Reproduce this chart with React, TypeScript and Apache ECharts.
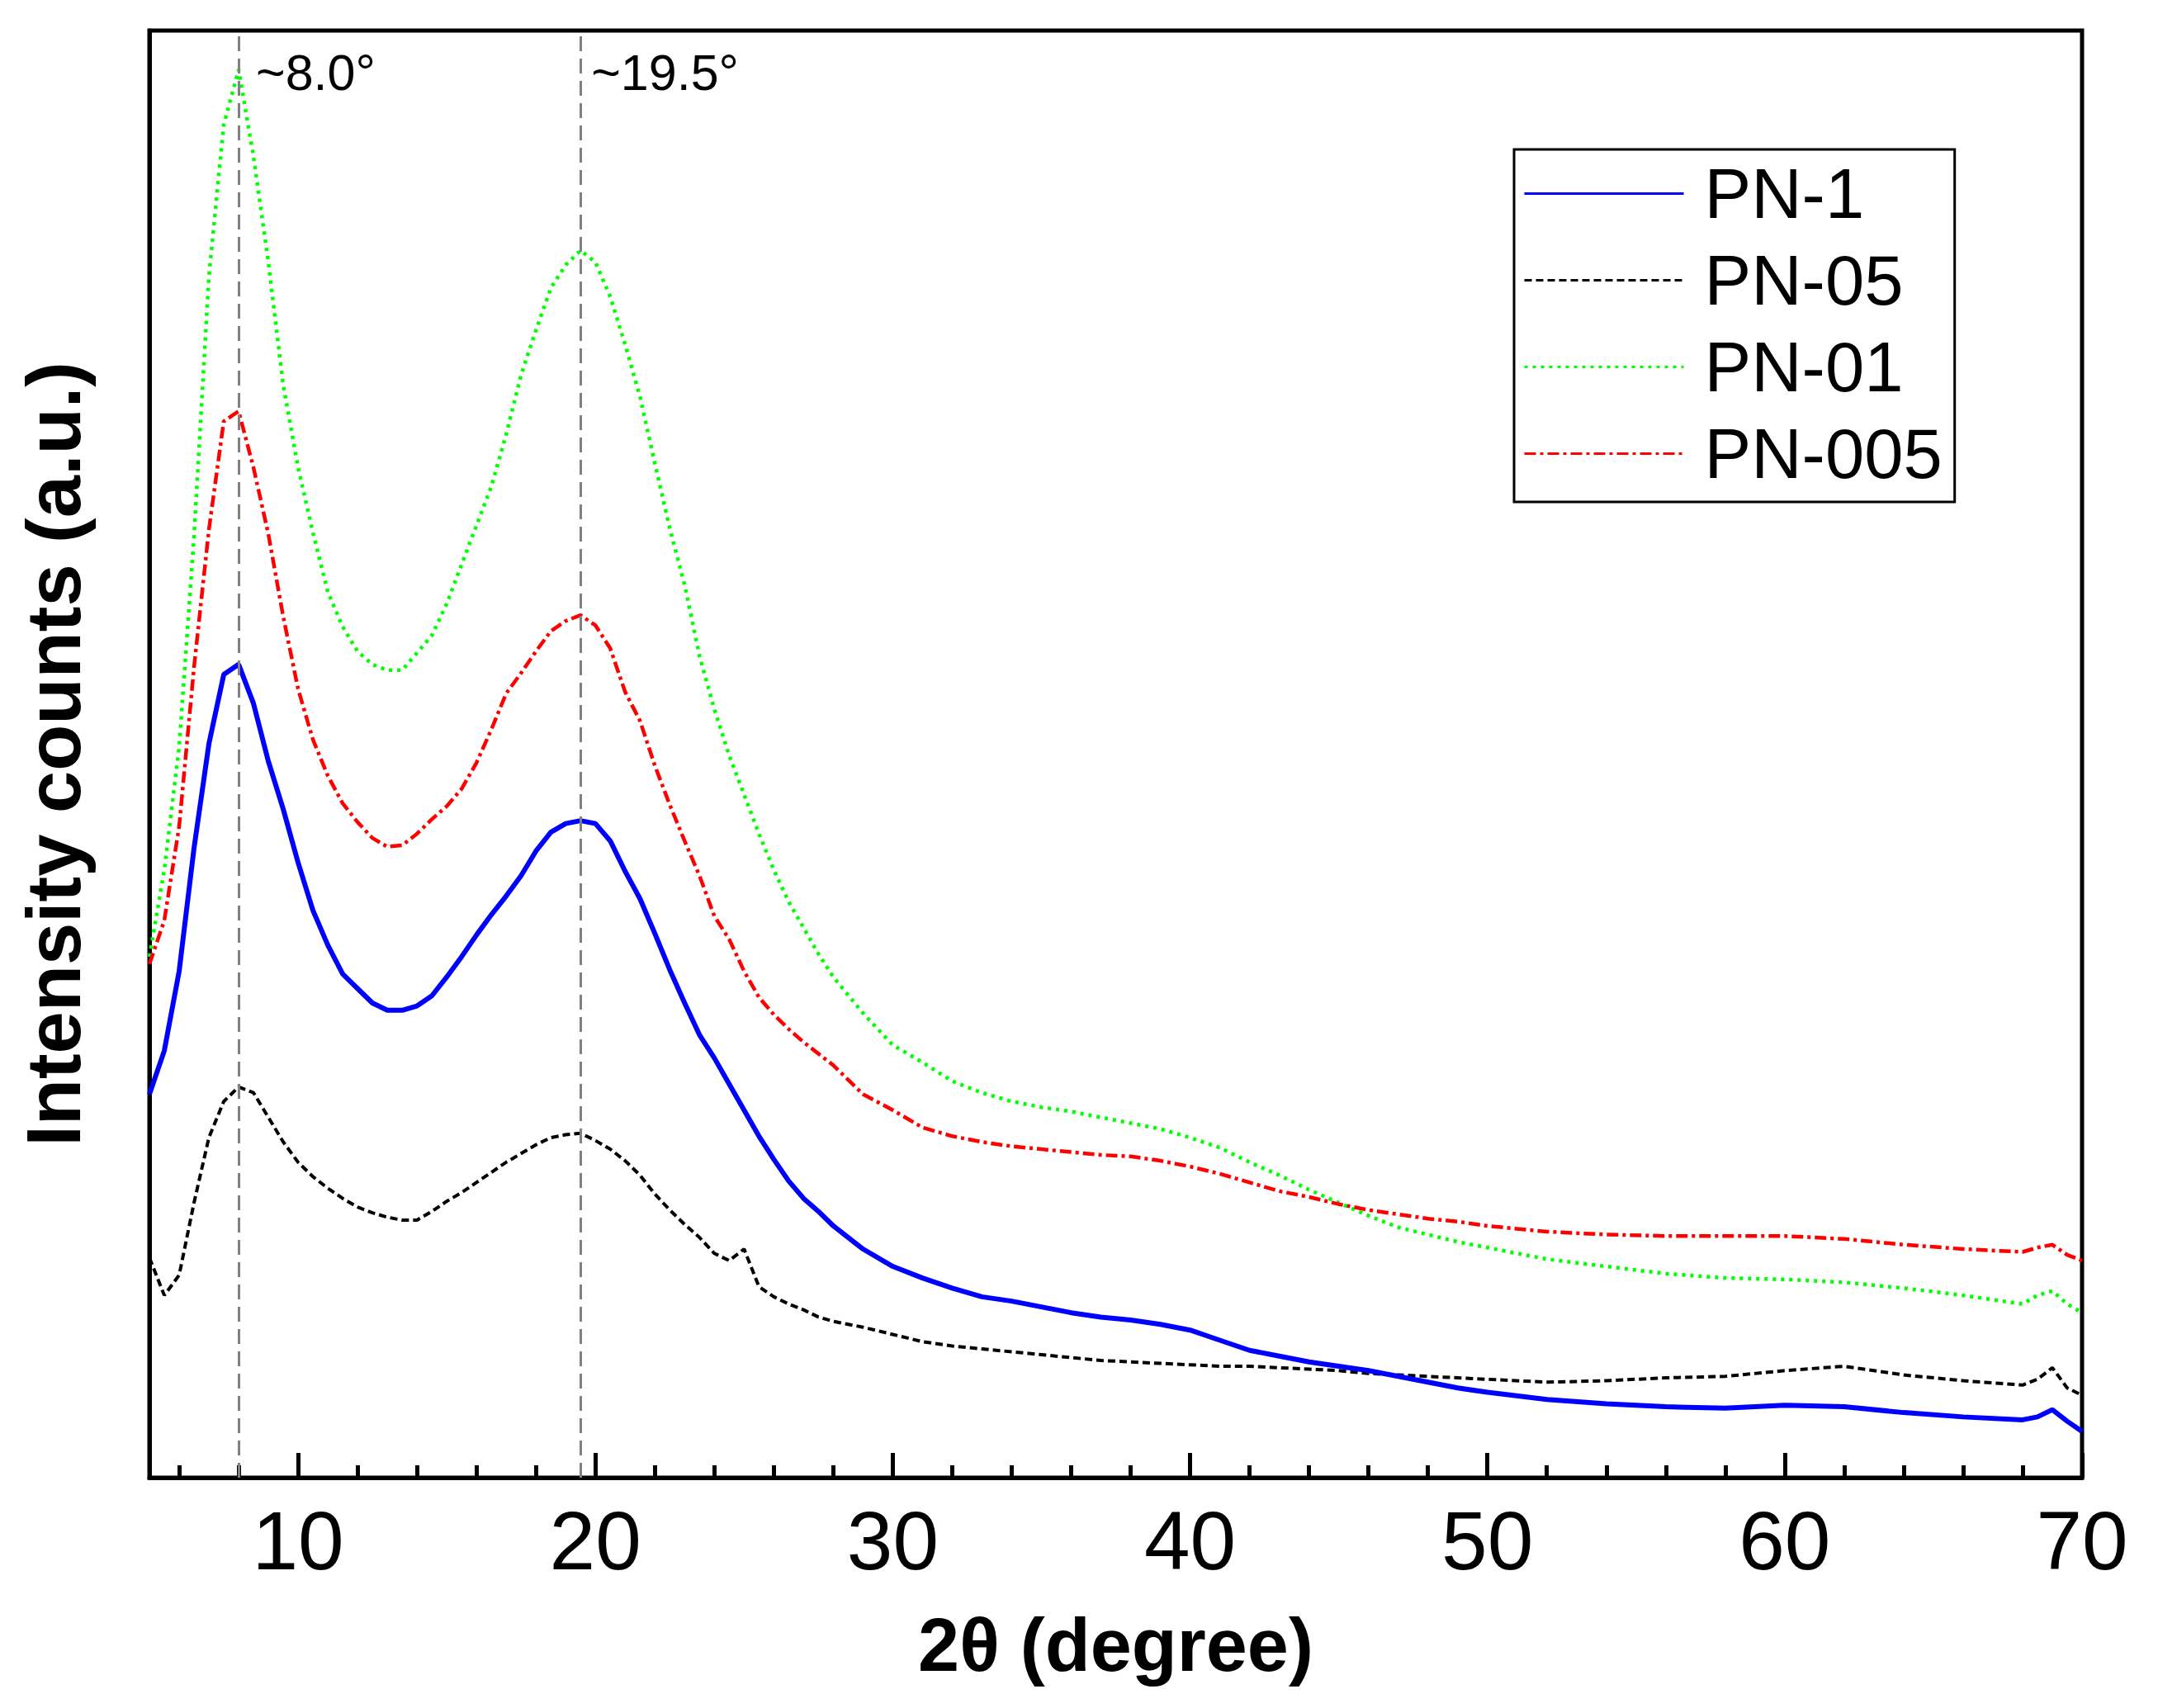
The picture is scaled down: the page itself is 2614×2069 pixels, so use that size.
import { useEffect, useRef } from 'react';
import * as echarts from 'echarts';

// 2θ positions (degree) at which the traces were read
const twoTheta = [
  5, 5.5, 6, 6.5, 7, 7.5, 8, 8.5, 9, 9.5, 10, 10.5, 11, 11.5, 12, 12.5, 13, 13.5, 14, 14.5,
  15, 15.5, 16, 16.5, 17, 17.5, 18, 18.5, 19, 19.5, 20, 20.5, 21, 21.5, 22, 22.5, 23, 23.5,
  24, 24.5, 25, 25.5, 26, 26.5, 27, 27.5, 28, 29, 30, 31, 32, 33, 34, 35, 36, 37, 38, 39, 40,
  41, 42, 43, 44, 45, 46, 47, 48, 49, 50, 52, 54, 56, 58, 60, 62, 64, 66, 68, 68.5, 69, 69.5, 70,
];

const pn1 = [
  26.5, 29.5, 35, 43.5, 50.7, 55.5, 56.2, 53.5, 49.5, 46.2, 42.5, 39.2, 36.8, 34.8, 33.8, 32.8,
  32.3, 32.3, 32.6, 33.3, 34.6, 36, 37.5, 38.9, 40.2, 41.6, 43.3, 44.6, 45.2, 45.4, 45.2, 44,
  41.9, 40, 37.6, 35.1, 32.8, 30.6, 29, 27.2, 25.4, 23.6, 22, 20.5, 19.3, 18.4, 17.4, 15.8, 14.6,
  13.8, 13.1, 12.5, 12.2, 11.8, 11.4, 11.1, 10.9, 10.6, 10.2, 9.5, 8.8, 8.4, 8, 7.7, 7.4, 7, 6.6,
  6.2, 5.9, 5.4, 5.1, 4.9, 4.8, 5, 4.9, 4.5, 4.2, 4, 4.2, 4.7, 3.9, 3.2,
];

const pn05 = [
  15.2, 12.6, 14, 19, 23.5, 26, 27, 26.6, 24.9, 23.2, 21.8, 20.8, 20, 19.3, 18.7, 18.3, 18, 17.8,
  17.8, 18.4, 19.1, 19.7, 20.4, 21.1, 21.8, 22.4, 23, 23.5, 23.7, 23.8, 23.3, 22.7, 21.9, 20.9,
  19.6, 18.5, 17.5, 16.6, 15.5, 15, 15.8, 13.2, 12.5, 12, 11.6, 11.1, 10.8, 10.4, 9.9, 9.4, 9.1,
  8.9, 8.7, 8.5, 8.3, 8.1, 8, 7.9, 7.8, 7.7, 7.7, 7.6, 7.5, 7.4, 7.2, 7.1, 7, 6.9, 6.8, 6.6, 6.7,
  6.9, 7, 7.4, 7.7, 7.1, 6.7, 6.4, 6.8, 7.6, 6.2, 5.7,
];

const pn01 = [
  36, 42, 50.5, 65, 83, 93.5, 97.3, 91.3, 84, 75.5, 69.8, 65.3, 61.2, 58.8, 57.1, 56.2, 55.8,
  55.8, 57, 58.2, 60.4, 63.1, 65.8, 68.5, 72.1, 76.2, 79.3, 82.2, 83.8, 84.8, 84, 81.6, 78.3,
  74.7, 70.1, 65.6, 61.7, 56.8, 53.1, 49.9, 47.2, 44.5, 42, 39.8, 38, 36.2, 34.6, 32.1, 29.9,
  28.7, 27.4, 26.6, 26, 25.6, 25.3, 24.9, 24.5, 24.1, 23.5, 22.8, 21.8, 20.9, 19.9, 19, 18.1,
  17.3, 16.8, 16.3, 15.9, 15.1, 14.6, 14.1, 13.8, 13.7, 13.5, 13.1, 12.6, 12, 12.6, 12.9, 12, 11.4,
];

const pn005 = [
  35.5, 38.5, 45, 56, 65.5, 73, 73.7, 69.8, 65.2, 59.5, 54.5, 51, 48.5, 46.6, 45.3, 44.2, 43.6,
  43.7, 44.5, 45.5, 46.4, 47.6, 49.4, 51.7, 54.2, 55.6, 57.1, 58.5, 59.2, 59.6, 58.9, 57.3, 54.3,
  52.3, 49.2, 46.5, 44, 41.6, 38.8, 37.2, 35, 33.2, 32, 31, 30.1, 29.3, 28.5, 26.5, 25.4, 24.2,
  23.6, 23.2, 22.9, 22.7, 22.5, 22.3, 22.2, 21.9, 21.5, 21, 20.4, 19.8, 19.4, 18.9, 18.5, 18.2,
  17.9, 17.7, 17.4, 17, 16.8, 16.7, 16.7, 16.7, 16.5, 16.1, 15.8, 15.6, 15.9, 16.1, 15.4, 15,
];

const seriesNames = ['PN-1', 'PN-05', 'PN-01', 'PN-005'];
const majorTicks = [10, 20, 30, 40, 50, 60, 70];
const minorTicks = [6, 8, 12, 14, 16, 18, 22, 24, 26, 28, 32, 34, 36, 38, 42, 44, 46, 48, 52, 54, 56, 58, 62, 64, 66, 68];
const peakPositions = [8.0, 19.5];
const peakLabels = ['~8.0°', '~19.5°'];
const labelHeight = 97.1;

const FONT = "'Liberation Sans', Arial, sans-serif";

const pair = (ys: number[]) => twoTheta.map((x, i) => [x, ys[i]]);

export default function App() {
  const ref = useRef<HTMLDivElement>(null);

  useEffect(() => {
    if (!ref.current) return;
    const chart = echarts.init(ref.current, null, { renderer: 'svg' });

    const lineCommon = {
      type: 'line' as const,
      showSymbol: false,
      symbol: 'none',
      smooth: false,
      xAxisIndex: 0,
      yAxisIndex: 0,
    };

    chart.setOption({
      animation: false,
      backgroundColor: '#ffffff',
      textStyle: { fontFamily: FONT },
      grid: {
        left: 181,
        right: 92,
        top: 37,
        bottom: 279,
        show: true,
        borderColor: '#000',
        borderWidth: 5,
        backgroundColor: 'transparent',
      },
      legend: {
        data: seriesNames,
        orient: 'vertical',
        left: 1834,
        top: 181,
        padding: [11, 15, 16, 11],
        borderColor: '#000',
        borderWidth: 3,
        itemWidth: 193,
        itemHeight: 20,
        itemGap: 20,
        // hide the marker dot that line series add to their legend icon
        itemStyle: { color: 'transparent', borderColor: 'transparent', borderWidth: 0, opacity: 0 },
        lineStyle: { width: 3 },
        textStyle: {
          fontFamily: FONT,
          fontSize: 85,
          lineHeight: 82,
          color: '#000',
          padding: [0, 0, 0, 20],
        },
      },
      xAxis: [
        {
          type: 'value',
          min: 5,
          max: 70,
          position: 'bottom',
          name: '2θ (degree)',
          nameLocation: 'middle',
          nameGap: 158,
          nameTextStyle: { fontFamily: FONT, fontSize: 90, fontWeight: 'bold', color: '#000' },
          axisLine: { show: true, lineStyle: { color: '#000', width: 5 } },
          axisTick: {
            show: true,
            inside: true,
            length: 30,
            lineStyle: { color: '#000', width: 5 },
            customValues: majorTicks,
          },
          axisLabel: {
            show: true,
            customValues: majorTicks,
            fontFamily: FONT,
            fontSize: 100,
            color: '#000',
            margin: 26,
          },
          splitLine: { show: false },
        },
        {
          type: 'value',
          min: 5,
          max: 70,
          position: 'bottom',
          axisLine: { show: false },
          axisTick: {
            show: true,
            inside: true,
            length: 15,
            lineStyle: { color: '#000', width: 5 },
            customValues: minorTicks,
          },
          axisLabel: { show: false },
          splitLine: { show: false },
        },
      ],
      yAxis: {
        type: 'value',
        min: 0,
        max: 100,
        name: 'Intensity counts (a.u.)',
        nameLocation: 'middle',
        nameGap: 70,
        nameTextStyle: { fontFamily: FONT, fontSize: 92, fontWeight: 'bold', color: '#000' },
        axisLine: { show: true, lineStyle: { color: '#000', width: 5 } },
        axisTick: { show: false },
        axisLabel: { show: false },
        splitLine: { show: false },
      },
      series: [
        {
          ...lineCommon,
          name: seriesNames[0],
          data: pair(pn1),
          z: 4,
          lineStyle: { color: '#0000ff', width: 6, type: 'solid' },
          itemStyle: { color: '#0000ff' },
          markLine: {
            silent: true,
            symbol: ['none', 'none'],
            label: { show: false },
            lineStyle: { color: '#808080', width: 3, type: [18, 9] },
            data: peakPositions.map((x) => ({ xAxis: x })),
          },
          markPoint: {
            silent: true,
            symbol: 'circle',
            symbolSize: 0,
            itemStyle: { color: 'transparent' },
            label: {
              show: true,
              position: 'right',
              formatter: '{b}',
              fontFamily: "'Liberation Sans Narrow', 'Liberation Sans', Arial, sans-serif",
              fontSize: 61,
              color: '#000',
            },
            data: peakPositions.map((x, i) => ({
              name: peakLabels[i],
              coord: [x, labelHeight],
              label: { distance: i === 0 ? 21 : 13 },
            })),
          },
        },
        {
          ...lineCommon,
          name: seriesNames[1],
          data: pair(pn05),
          z: 3,
          lineStyle: { color: '#000000', width: 4, type: [9, 5] },
          itemStyle: { color: '#000000' },
        },
        {
          ...lineCommon,
          name: seriesNames[2],
          data: pair(pn01),
          z: 3,
          lineStyle: { color: '#00ff00', width: 4.5, type: [4, 6] },
          itemStyle: { color: '#00ff00' },
        },
        {
          ...lineCommon,
          name: seriesNames[3],
          data: pair(pn005),
          z: 3,
          lineStyle: { color: '#ff0000', width: 4.5, type: [14, 5, 4, 5] },
          itemStyle: { color: '#ff0000' },
        },
      ],
    });

    const onResize = () => chart.resize();
    window.addEventListener('resize', onResize);
    return () => {
      window.removeEventListener('resize', onResize);
      chart.dispose();
    };
  }, []);

  return (
    <div
      ref={ref}
      style={{ position: 'fixed', left: 0, top: 0, width: '100vw', height: '100vh', background: '#fff' }}
    />
  );
}
